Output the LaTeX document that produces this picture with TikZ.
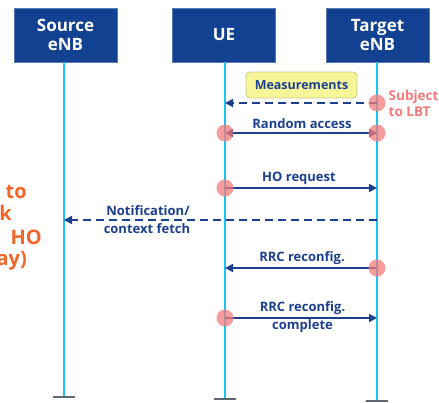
\documentclass[tikz,border=0pt]{standalone}
\usepackage{fontspec}
\setmainfont{Open Sans}
\usetikzlibrary{arrows.meta}
\definecolor{boxblue}{HTML}{124191}
\definecolor{msgblue}{HTML}{1C3F8F}
\definecolor{lifecyan}{HTML}{1CC3F2}
\definecolor{dotred}{HTML}{F27C7C}
\definecolor{lbtred}{HTML}{F47A7A}
\definecolor{noteorange}{HTML}{F2662A}
\definecolor{noteyellow}{HTML}{F7F79A}
\definecolor{tickgray}{HTML}{5E6670}
\tikzset{
  entity/.style={draw=boxblue!70!white, line width=0.6pt, fill=boxblue, text=white,
    font=\fontsize{17}{19}\selectfont\bfseries, minimum width=103pt, minimum height=54pt,
    align=center, inner sep=0pt},
  lifeline/.style={lifecyan, line width=2pt},
  endtick/.style={tickgray, line width=2.5pt},
  msg/.style={msgblue, line width=1.8pt, -{Triangle[length=8pt,width=8pt]}},
  dualmsg/.style={msgblue, line width=1.8pt, {Triangle[length=8pt,width=8pt]}-{Triangle[length=8pt,width=8pt]}},
  dashmsg/.style={msg, dash pattern=on 8pt off 5pt},
  msglabel/.style={text=msgblue, font=\fontsize{13}{14}\selectfont\bfseries, align=center, inner sep=0pt},
  lbtdot/.style={circle, fill=dotred, fill opacity=0.75, minimum size=17pt, inner sep=0pt},
  notebox/.style={draw=noteyellow!60!gray, line width=0.8pt, rounded corners=4pt, fill=noteyellow,
    minimum width=111pt, minimum height=26pt, inner sep=0pt, text=msgblue,
    font=\fontsize{12.5}{14}\selectfont\bfseries},
  sidenote/.style={text=noteorange, font=\fontsize{20}{22}\selectfont\bfseries, inner sep=0pt, anchor=base east},
}
\begin{document}
\begin{tikzpicture}[x=1pt,y=-1pt]
\useasboundingbox (0,0) rectangle (439,402);
\begin{scope}
\clip (0,0) rectangle (439,402);

% entities
\node[entity] (src) at (65.5,35) {Source\\eNB};
\node[entity] (ue)  at (224,35) {UE};
\node[entity] (tgt) at (377.5,35) {Target\\eNB};

% lifeline ends
\coordinate (srcEnd) at (64,397);
\coordinate (ueEnd)  at (225,399);
\coordinate (tgtEnd) at (377,401);
\draw[lifeline] (src.south -| srcEnd) -- (srcEnd);
\draw[lifeline] (ue.south -| ueEnd) -- (ueEnd);
\draw[lifeline] (tgt.south -| tgtEnd) -- (tgtEnd);
\draw[endtick] ([xshift=-11pt]srcEnd) -- ([xshift=11pt]srcEnd);
\draw[endtick] ([xshift=-11pt]ueEnd) -- ([xshift=11pt]ueEnd);
\draw[endtick] ([xshift=-11pt]tgtEnd) -- ([xshift=11pt]tgtEnd);

% message anchor points on the lifelines
\coordinate (tMeas) at (377,103);  \coordinate (uMeas) at (225,103);
\coordinate (uRA)   at (225,133);  \coordinate (tRA)   at (377,133);
\coordinate (uHO)   at (225,188);  \coordinate (tHO)   at (377,188);
\coordinate (tNot)  at (377,220);  \coordinate (sNot)  at (64,220);
\coordinate (tRRC)  at (377,268);  \coordinate (uRRC)  at (225,268);
\coordinate (uDone) at (225,318);  \coordinate (tDone) at (377,318);

% measurements
\node[notebox] (meas) at (301.5,85) {Measurements};
\draw[dashmsg] (tMeas) -- (uMeas);
\node[lbtdot] (d1) at (tMeas) {};
\node[text=lbtred, font=\fontsize{13.5}{16}\selectfont\bfseries, align=left, anchor=north west, inner sep=0pt]
  (lbt) at (388.5,90) {Subject\\to LBT};

% random access
\draw[dualmsg] (uRA) -- (tRA);
\node[msglabel] (raLab) at (302,124) {Random access};
\node[lbtdot] (d2) at (uRA) {};
\node[lbtdot] (d3) at (tRA) {};

% HO request
\draw[msg] (uHO) -- (tHO);
\node[msglabel] (hoLab) at (299,178) {HO request};
\node[lbtdot] (d4) at (uHO) {};

% notification / context fetch
\draw[dashmsg] (tNot) -- (sNot);
\node[msglabel] (notLab) at (148,211) {Notification/};
\node[msglabel] (ctxLab) at (147,229) {context fetch};

% RRC reconfiguration
\draw[msg] (tRRC) -- (uRRC);
\node[msglabel] (rrcLab) at (302,258) {RRC reconfig.};
\node[lbtdot] (d5) at (tRRC) {};

% RRC reconfiguration complete
\draw[msg] (uDone) -- (tDone);
\node[msglabel] (doneLab) at (302.5,308) {RRC reconfig.};
\node[msglabel] (doneLab2) at (302.5,326) {complete};
\node[lbtdot] (d6) at (uDone) {};

% side note running off the left edge
\node[sidenote] (n1) at (27,198) {to};
\node[sidenote] (n2) at (12,220) {k};
\node[sidenote] (n3) at (42,244) {HO};
\node[sidenote] (n4) at (27,265) {ay)};
\end{scope}
\end{tikzpicture}
\end{document}
